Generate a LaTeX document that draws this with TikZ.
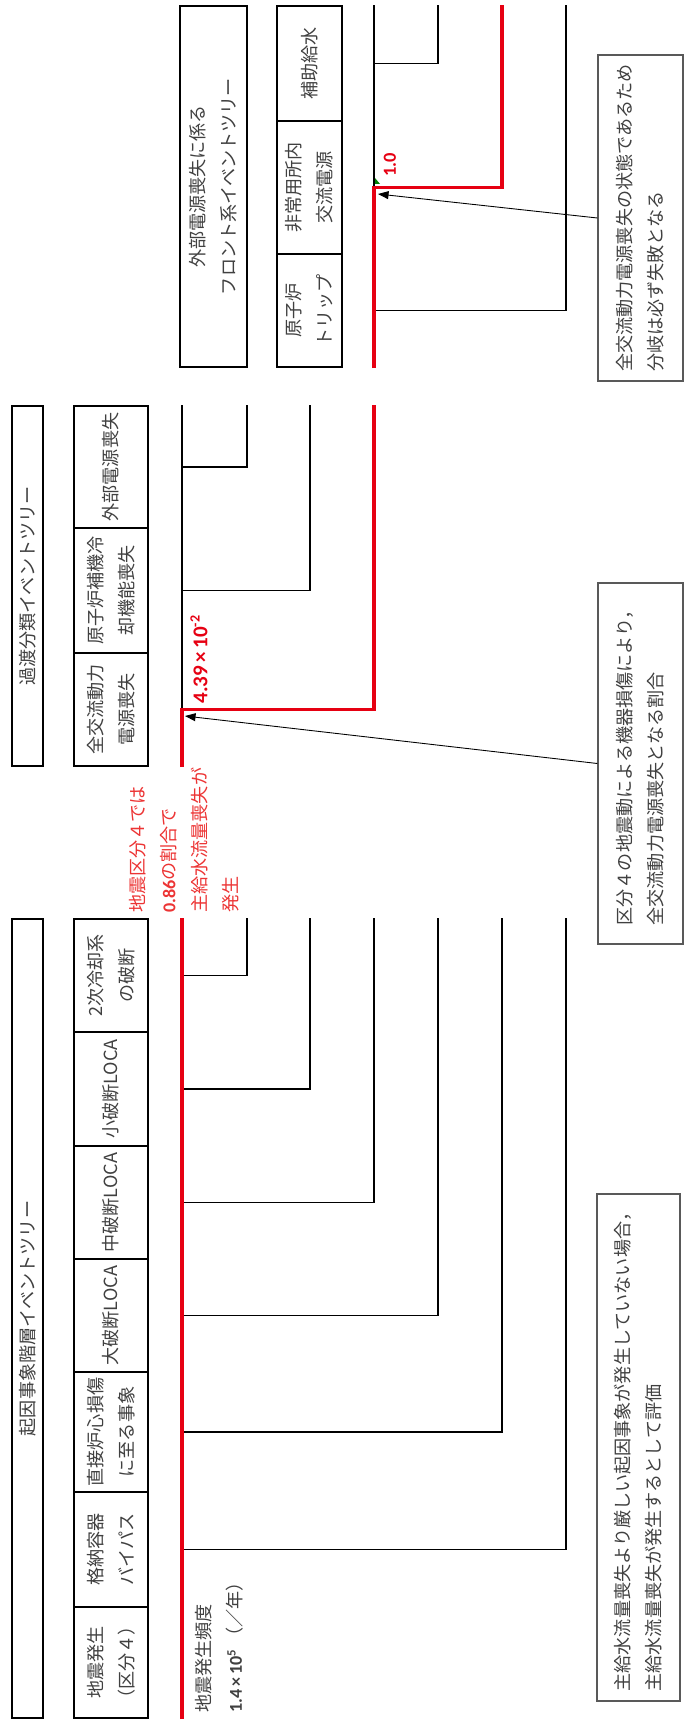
\documentclass[tikz,border=0pt]{standalone}
\usepackage{fontspec}
\setmainfont{Noto Sans CJK JP}
\newfontfamily\latnum{Carlito}
\usepackage{tikz}
\usetikzlibrary{arrows.meta}
\definecolor{failRed}{RGB}{230,0,18}
\definecolor{noteRed}{RGB}{236,52,52}
\definecolor{inkGray}{RGB}{64,64,64}

\begin{document}
\begin{tikzpicture}[x=0.02cm, y=-0.02cm,
    every node/.style={font=\fontsize{10.3}{17.6}\selectfont, text=inkGray},
    ttl/.style={draw, line width=1.2pt, rotate=90, inner sep=0pt, align=center},
    hdr/.style={draw, line width=1.2pt, rotate=90, inner sep=0pt, align=center, minimum height=1.48cm},
    note/.style={draw=black!65, line width=0.7pt, rotate=90, inner sep=0pt, align=left, minimum height=1.7cm},
    lbl/.style={rotate=90, inner sep=0pt, align=left},
    br/.style={line width=1.1pt},
    fail/.style={draw=failRed, line width=2pt},
    pointer/.style={-{Triangle[length=6pt, width=4.5pt]}, line width=0.5pt}]
  \useasboundingbox (0,0) rectangle (684,1730);
  % Tree titles
  \node[ttl, minimum width=15.98cm, minimum height=0.62cm] (tIE) at (27.5,1318.5) {起因事象階層イベントツリー};
  \node[ttl, minimum width=7.2cm, minimum height=0.62cm] (tTR) at (27.5,586) {過渡分類イベントツリー};
  \node[ttl, minimum width=7.22cm, minimum height=1.34cm] (tFR) at (213.5,186.5) {外部電源喪失に係る\\フロント系イベントツリー};
  % Headings - initiating events
  \node[hdr, minimum width=2.22cm] (heq) at (111,1662.5) {地震発生\\（区分４）};
  \node[hdr, minimum width=2.30cm] (hcv) at (111,1549.5) {格納容器\\バイパス};
  \node[hdr, minimum width=2.40cm] (hcd) at (111,1432) {直接炉心損傷\\に至る事象};
  \node[hdr, minimum width=2.26cm] (hlb) at (111,1315.5) {大破断LOCA};
  \node[hdr, minimum width=2.26cm] (hmb) at (111,1202.5) {中破断LOCA};
  \node[hdr, minimum width=2.28cm] (hsb) at (111,1089) {小破断LOCA};
  \node[hdr, minimum width=2.26cm] (h2ji) at (111,975.5) {2次冷却系\\の破断};
  % Headings - transients
  \node[hdr, minimum width=2.26cm] (hsbo) at (111,709.5) {全交流動力\\電源喪失};
  \node[hdr, minimum width=2.50cm] (hcw) at (111,590.5) {原子炉補機冷\\却機能喪失};
  \node[hdr, minimum width=2.44cm] (hlo) at (111,467) {外部電源喪失};
  % Headings - front line
  \node[hdr, minimum width=2.26cm, minimum height=1.3cm] (hrt) at (309.5,310.5) {原子炉\\トリップ};
  \node[hdr, minimum width=2.66cm, minimum height=1.3cm] (hac) at (309.5,187.5) {非常用所内\\交流電源};
  \node[hdr, minimum width=2.30cm, minimum height=1.3cm] (haf) at (309.5,63.5) {補助給水};
  % Branch levels
  \foreach \k/\x in {0/182,1/247,2/310,3/374,4/438,5/502,6/566}
    \coordinate (lv\k) at (\x,0);
  % Success branches
  \foreach \h/\k in {h2ji/1,hsb/2,hmb/3,hlb/4,hcd/5,hcv/6}
    \draw[br] (\h -| lv0) -| (lv\k |- h2ji.east);
  \draw[br] (lv0 |- hsbo) -- (lv0 |- hlo.east);
  \foreach \h/\k in {hcw/2,hlo/1}
    \draw[br] (\h -| lv0) -| (lv\k |- hlo.east);
  \draw[br] (lv3 |- hac) -- (lv3 |- haf.east);
  \foreach \h/\k in {hrt/6,haf/4}
    \draw[br] (\h -| lv3) -| (lv\k |- haf.east);
  % Failure path
  \draw[fail] (lv0 |- heq.west) -- (lv0 |- h2ji.east);
  \draw[fail] (lv0 |- hsbo.west) -- (lv0 |- hsbo) -| (lv3 |- hlo.east);
  \draw[fail] (lv3 |- hrt.west) -- (lv3 |- hac) -| (lv5 |- haf.east);
  \fill[green!50!black] (375,184) -- (380,184) -- (375,178) -- cycle;
  % Labels
  \node[lbl, anchor=west] (lblEq) at (204,1713) {地震発生頻度};
  \node[lbl, anchor=west] (lblFq) at (235,1713) {{\latnum\bfseries 1.4\,×\,10\textsuperscript{5}}\,（／年）};
  \node[lbl, text=noteRed, anchor=north west] (lblRatio) at (129,913) {地震区分４では\\{\latnum\bfseries 0.86}の割合で\\主給水流量喪失が\\発生};
  \node[lbl, text=failRed, anchor=west, font=\latnum\bfseries\fontsize{12}{12}\selectfont] (pSbo) at (199,704) {4.39\,×\,10\textsuperscript{-2}};
  \node[lbl, text=failRed, anchor=west, font=\latnum\bfseries\fontsize{10.5}{12}\selectfont] (pAc) at (390,177) {1.0};
  % Notes
  \node[note, minimum width=6.52cm] (nt1) at (640.5,218) {全交流動力電源喪失の状態であるため\\分岐は必ず失敗となる};
  \node[note, minimum width=7.22cm] (nt2) at (640.5,763.5) {区分４の地震動による機器損傷により，\\全交流動力電源喪失となる割合};
  \node[note, minimum width=10.14cm, minimum height=1.66cm] (nt3) at (638.5,1447.5) {主給水流量喪失より厳しい起因事象が発生していない場合，\\主給水流量喪失が発生するとして評価};
  \coordinate (tipAc) at (378,194);
  \coordinate (tipSbo) at (185,716);
  \draw[pointer] (nt1.north) -- (tipAc);
  \draw[pointer] (nt2.north) -- (tipSbo);
\end{tikzpicture}
\end{document}
